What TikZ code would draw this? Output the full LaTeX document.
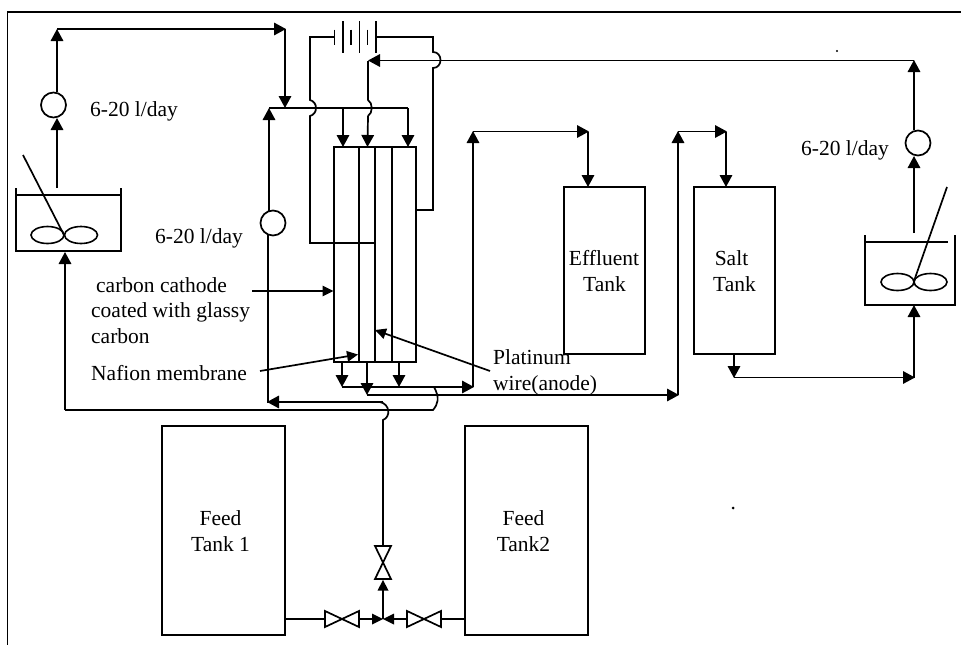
\documentclass[tikz,border=0pt]{standalone}
\usepackage{fontspec}
\setmainfont{Liberation Serif}
\usetikzlibrary{arrows.meta,shapes.geometric}
\tikzset{
  x=1pt,y=-1pt,
  pipe/.style={line width=1.7pt,line join=miter},
  flow/.style={pipe,-{Triangle[length=12pt,width=12.5pt]}},
  small flow/.style={pipe,-{Triangle[length=11pt,width=10.5pt]}},
  tank/.style={draw,line width=1.7pt,rectangle,inner sep=0pt,align=center},
  pump/.style={draw,line width=1.7pt,circle,inner sep=0pt,minimum size=25pt,fill=white},
  lab/.style={font=\fontsize{21.5}{26}\selectfont,inner sep=0pt,anchor=base west},
  captext/.style={font=\fontsize{21.5}{26}\selectfont,inner sep=0pt,anchor=base},
  blade/.style={draw,line width=1.6pt,ellipse,minimum width=33pt,minimum height=17pt,inner sep=0pt},
  valvestyle/.style={line width=1.7pt,line join=miter,fill=white},
}
\begin{document}
\begin{tikzpicture}
\useasboundingbox (0,0) rectangle (961,645);
% frame
\draw[line width=1.6pt] (7.5,645) -- (7.5,12) -- (961,12);
% tanks
\node[tank,minimum width=81pt,minimum height=167pt] (eff) at (604.5,270.5) {};
\node[tank,minimum width=81pt,minimum height=167pt] (salt) at (734.5,270.5) {};
\node[tank,minimum width=123pt,minimum height=209pt] (feedone) at (223.5,530.5) {};
\node[tank,minimum width=123pt,minimum height=209pt] (feedtwo) at (526.5,530.5) {};
% pumps
\node[pump] (pumpa) at (53.5,105) {};
\node[pump] (pumpb) at (273,223) {};
\node[pump] (pumpc) at (918,143) {};
% left mixing vessel
\draw[pipe] (16,188) -- (16,251) -- (121,251) -- (121,188);
\draw[pipe] (16,195) -- (121,195);
\node[blade] (la) at (47.5,235) {};
\node[blade] (lb) at (81,235) {};
\coordinate (lhub) at (64,235);
\coordinate (lshaft) at (23,155);
\draw[pipe] (lshaft) -- (lhub);
% right mixing vessel
\draw[pipe] (865,235) -- (865,305) -- (955,305) -- (955,235);
\draw[pipe] (865,242) -- (948,242);
\node[blade] (ra) at (897.5,282) {};
\node[blade] (rb) at (930.5,282) {};
\coordinate (rhub) at (914,281);
\coordinate (rshaft) at (947,187);
\draw[pipe] (rshaft) -- (rhub);
% cell
\coordinate (ca) at (334,147); \coordinate (cb) at (359,147); \coordinate (cc) at (375,147);
\coordinate (cd) at (392,147);
\coordinate (cbbot) at (359,362); \coordinate (ccbot) at (375,362);
\coordinate (cdbot) at (392,362); \coordinate (cebot) at (416,362);
\draw[pipe] (ca) rectangle (cebot);
\draw[pipe] (cb) -- (cbbot);
\draw[pipe] (cc) -- (ccbot);
\draw[pipe] (cd) -- (cdbot);
% battery
\foreach \px/\h in {334.5/7.5,343/16,351/7.5,359.5/16,367.5/7.5,376/16}{
  \draw[pipe] (\px,37-\h) -- (\px,37+\h);
}
\coordinate (batl) at (334,37); \coordinate (batr) at (376,37);
\draw[pipe] (batl) -- (310,37) -- (310,100) .. controls (318,102) and (318,114) .. (310,116) -- (310,243) -- (375,243);
\draw[pipe] (batr) -- (433,37) -- (433,52) .. controls (443,52) and (443,68) .. (433,68) -- (433,210) -- (416,210);
% pump a loop
\coordinate (lv) at (57,188);
\draw[flow] (lv) -- (57,118);
\draw[flow] (57,92) -- (57,29);
\draw[flow] (57,29) -- (286,29);
\draw[flow] (285,29) -- (285,108);
% manifold top
\draw[flow] (269,211) -- (269,108);
\draw[pipe] (269,108) -- (408,108);
\draw[flow] (343,108) -- (343,147);
\draw[flow] (408,108) -- (408,147);
\draw[flow] (368,116) -- (367.5,147);
% pump c loop
\draw[flow] (914,233) -- (914,156);
\draw[flow] (914,130) -- (914,60);
\draw[flow] (914,60.5) -- (368,60.5);
\draw[pipe] (368,61) -- (368,100) .. controls (373,103) and (373,113) .. (368,116);
% cell bottom
\draw[flow] (342,362) -- (342,387);
\draw[flow] (367,362) -- (367,395);
\draw[flow] (399,362) -- (399,387);
\draw[flow] (342,387) -- (474,387);
\draw[flow] (367,395) -- (679,395);
\draw[flow] (473,387) -- (473,131);
\draw[flow] (473,131.5) -- (589,131.5);
\draw[flow] (588,131.5) -- (588,187);
\draw[flow] (678,395) -- (678,131);
\draw[flow] (678,131.5) -- (727,131.5);
\draw[flow] (726,131.5) -- (726,187);
\draw[flow] (734,354) -- (734,378);
\draw[flow] (734,377.5) -- (915,377.5);
\draw[flow] (914,378) -- (914,305);
% return to left vessel
\draw[pipe] (434,387) .. controls (440,398) and (438,404) .. (433,410) -- (65,410);
\draw[flow] (65,410) -- (65,252);
% feed line
\draw[flow] (383,402) -- (267,402);
\draw[pipe] (268,403) -- (268,235);
\draw[pipe] (383,546) -- (383,420) .. controls (391,417) and (390,404) .. (380,402);
% pointers
\coordinate (ptcat) at (252,291); \coordinate (ptnaf) at (260,371); \coordinate (ptpla) at (490,371);
\draw[small flow] (ptcat) -- (333.5,291);
\draw[small flow] (ptnaf) -- (358,354.5);
\draw[small flow] (ptpla) -- (375,330);
% valves
\draw[pipe] (285,619) -- (325,619);
\draw[pipe] (359,619) -- (372,619);
\draw[pipe] (394,619) -- (407,619);
\draw[pipe] (441,619) -- (464,619);
\draw[valvestyle] (325,611) -- (325,627) -- (359,611) -- (359,627) -- cycle;
\draw[valvestyle] (407,611) -- (407,627) -- (441,611) -- (441,627) -- cycle;
\draw[valvestyle] (375,546) -- (391,546) -- (375,579) -- (391,579) -- cycle;
\draw[pipe] (383,590) -- (383,619);
\fill (383,580) -- (377.5,590.5) -- (388.5,590.5) -- cycle;
\fill (383,619) -- (372,613.5) -- (372,624.5) -- cycle;
\fill (383,619) -- (394,613.5) -- (394,624.5) -- cycle;
% labels
\node[lab] (ta) at (90,116) {6-20 l/day};
\node[lab] (tb) at (155,243) {6-20 l/day};
\node[lab] (tc) at (801,155) {6-20 l/day};
\node[lab] (td) at (96,292) {carbon cathode};
\node[lab] (te) at (91,317) {coated with glassy};
\node[lab] (tf) at (91,343) {carbon};
\node[lab] (tg) at (91,380) {Nafion membrane};
\node[lab] (th) at (493,364) {Platinum};
\node[lab] (ti) at (493,390) {wire(anode)};
\node[captext] (tj) at (604,265) {Effluent};
\node[captext] (tk) at (604.5,291) {Tank};
\node[captext] (tl) at (731.5,265) {Salt};
\node[captext] (tm) at (734.5,291) {Tank};
\node[captext] (tn) at (220.5,525) {Feed};
\node[captext] (to) at (220.5,551) {Tank 1};
\node[captext] (tp) at (523.5,525) {Feed};
\node[captext] (tq) at (523.5,551) {Tank2};
% specks
\fill (837,51) circle (1.2pt);
\fill (733,508) circle (1.5pt);
\end{tikzpicture}
\end{document}
